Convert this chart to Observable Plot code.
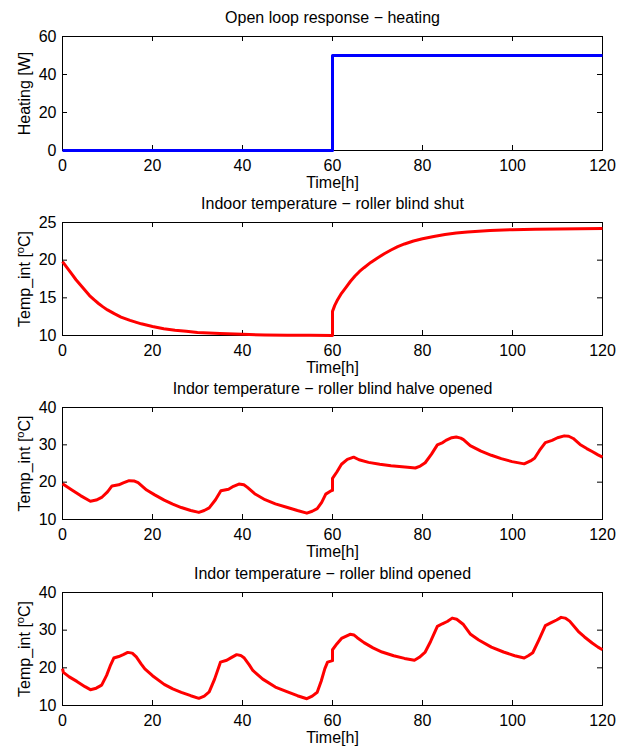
<!DOCTYPE html>
<html>
<head>
<meta charset="utf-8">
<script src="https://cdn.jsdelivr.net/npm/d3@7"></script>
<script src="https://cdn.jsdelivr.net/npm/@observablehq/plot@0.6"></script>
<style>
  html, body { margin: 0; padding: 0; background: #fff; }
  #wrap { position: relative; width: 630px; height: 747px; overflow: hidden; }
  #wrap svg { position: absolute; left: 0; overflow: visible; background: transparent; }
</style>
</head>
<body>
<div id="wrap"></div>
<script>
// ---- data ----
const titles = [
  "Open loop response \u2212 heating",
  "Indoor temperature \u2212 roller blind shut",
  "Indor temperature \u2212 roller blind halve opened",
  "Indor temperature \u2212 roller blind opened"
];
const xLabel = "Time[h]";
const yLabels = ["Heating [W]", "Temp_int [oC]", "Temp_int [oC]", "Temp_int [oC]"];
const xTicks = [0, 20, 40, 60, 80, 100, 120];
const yTicks1 = [0, 20, 40, 60];
const yTicks2 = [10, 15, 20, 25];
const yTicks3 = [10, 20, 30, 40];

// heating power [W]
const heatT = [0, 60, 60, 120];
const heatV = [0, 0, 50, 50];

// indoor temperature, roller blind shut
const shutT = [0, 0.5, 1, 2, 3, 4, 5, 6, 7, 8, 9, 10, 11.5, 13, 15, 17.5, 20, 22.5, 25, 27.5, 30, 35, 40, 45, 50, 55, 60,
  60, 60.5, 61, 61.5, 62, 63, 64, 65, 66, 67, 68.5, 70, 71.5, 73, 74.5, 76, 78, 80, 82.5, 85, 87.5, 90, 95, 100, 105, 110, 120];
const shutV = [19.8, 19.4, 19.0, 18.2, 17.4, 16.7, 16.0, 15.3, 14.75, 14.25, 13.8, 13.4, 12.9, 12.45, 12.0, 11.55, 11.2, 10.9, 10.7, 10.55, 10.4, 10.25, 10.15, 10.08, 10.04, 10.02, 10.0,
  13.2, 14.0, 14.6, 15.1, 15.6, 16.4, 17.2, 17.9, 18.5, 19.0, 19.7, 20.3, 20.85, 21.35, 21.8, 22.15, 22.55, 22.85, 23.15, 23.4, 23.6, 23.75, 23.95, 24.05, 24.12, 24.15, 24.2];

// indoor temperature, roller blind half opened
const halfT = [0, 2, 4, 6.2, 7.5, 8.7, 10, 11, 12.5, 13.5, 14.8, 16, 16.8, 18.7, 20.5, 22.6, 24.5, 26.4, 28.5, 30.3,
  31.5, 32.6, 34, 35.2, 36.9, 38, 39.2, 40.3, 41.1, 42.7, 45, 47.3, 50, 52.2, 54.3,
  55.5, 56.6, 57.6, 58.5, 59.7, 60, 60, 61, 62, 63.3, 64.7, 65.9, 68, 70.5, 73, 76.7, 78.4,
  79.5, 80.6, 82, 83.3, 84.5, 85.2, 86.5, 87.5, 88.5, 89.1, 90.6, 93, 95.3, 97.5, 99.9, 102.6,
  104, 104.9, 106, 107.3, 108.8, 110, 111.5, 112.5, 113.5, 115, 116.5, 117.7, 119, 120];
const halfV = [19.6, 18.0, 16.4, 14.9, 15.2, 15.9, 17.4, 19.0, 19.3, 19.8, 20.4, 20.3, 19.9, 17.9, 16.6, 15.2, 14.1, 13.2, 12.4, 11.9,
  12.4, 13.1, 15.3, 17.7, 18.1, 18.9, 19.5, 19.3, 18.6, 16.9, 15.3, 14.2, 13.2, 12.4, 11.7,
  12.2, 12.9, 14.6, 16.8, 17.7, 17.8, 21.0, 22.8, 24.8, 26.1, 26.7, 26.0, 25.3, 24.8, 24.4, 24.0, 23.8,
  24.3, 25.2, 27.5, 30.0, 30.6, 31.2, 31.9, 32.1, 31.8, 31.4, 29.8, 28.3, 27.2, 26.3, 25.5, 24.9,
  25.7, 26.4, 28.5, 30.6, 31.2, 31.9, 32.4, 32.3, 31.7, 30.1, 29.0, 28.2, 27.3, 26.7];

// indoor temperature, roller blind opened
const openT = [0, 0.2, 1.5, 3.2, 5, 6.2, 7.5, 8.7, 9.8, 10.6, 11.4, 12.5, 13.5, 14.5, 15.5, 16.4, 17.5, 18.3, 20, 22.6, 24.5, 26.4, 28.5, 30.3,
  31.5, 32.6, 33.8, 35.1, 36.5, 37.5, 38.7, 39.6, 40.4, 41.5, 42.3, 44.5, 47.3, 50, 52.2, 54.3,
  55.5, 56.6, 57.5, 58.3, 58.9, 60, 60, 61, 62, 63.9, 64.8, 65.5, 67, 69, 71, 73.6, 76, 78.2,
  79.3, 80.6, 81.8, 83.3, 84.4, 85.5, 86.6, 87.6, 89.1, 90.6, 92.5, 95.3, 98, 100.5, 102.6,
  103.5, 104.5, 105.9, 107.3, 108.6, 109.8, 110.8, 111.7, 112.7, 114.6, 116, 117.7, 119, 120];
const openV = [19.8, 18.8, 17.6, 16.4, 15.0, 14.2, 14.6, 15.4, 18.0, 20.5, 22.6, 23.0, 23.5, 24.1, 23.9, 22.9, 21.0, 19.7, 17.9, 15.6, 14.4, 13.5, 12.6, 11.9,
  12.5, 13.6, 17.0, 21.5, 22.0, 22.7, 23.5, 23.3, 22.6, 20.8, 19.3, 17.0, 14.9, 13.6, 12.6, 11.8,
  12.5, 13.5, 16.5, 19.8, 21.5, 21.9, 24.8, 26.4, 27.8, 28.9, 28.7, 28.0, 26.7, 25.3, 24.2, 23.2, 22.5, 22.0,
  22.8, 24.2, 27.0, 31.0, 31.7, 32.3, 33.2, 32.9, 31.5, 29.0, 27.4, 25.5, 24.2, 23.2, 22.6,
  23.2, 24.0, 27.5, 31.2, 32.0, 32.7, 33.4, 33.2, 32.4, 29.7, 28.2, 26.6, 25.5, 24.8];

// ---- drawing ----
const toRows = (T, V) => T.map((t, i) => ({t, v: V[i]}));
const font = "'Liberation Sans', Arial, Helvetica, sans-serif";

const panels = [
  {rows: toRows(heatT, heatV), color: "#0000ff", domain: [0, 60], ticks: yTicks1, top: 0, inner: 114},
  {rows: toRows(shutT, shutV), color: "#ff0000", domain: [10, 25], ticks: yTicks2, top: 186, inner: 113},
  {rows: toRows(halfT, halfV), color: "#ff0000", domain: [10, 40], ticks: yTicks3, top: 371, inner: 112},
  {rows: toRows(openT, openV), color: "#ff0000", domain: [10, 40], ticks: yTicks3, top: 556, inner: 113}
];

const wrap = document.getElementById("wrap");
const mt = 36, mb = 40, ml = 62, mr = 28, tick = 5;

panels.forEach((p, i) => {
  const h = mt + p.inner + mb;
  const svg = Plot.plot({
    width: 630,
    height: h,
    marginTop: mt,
    marginBottom: mb,
    marginLeft: ml,
    marginRight: mr,
    style: {fontFamily: font, fontSize: "16px", color: "#000", background: "transparent", overflow: "visible"},
    x: {domain: [0, 120]},
    y: {domain: p.domain},
    marks: [
      Plot.frame({stroke: "#000", strokeWidth: 1}),
      // inward ticks on all four sides
      Plot.tickX(xTicks, {x: d => d, insetTop: p.inner - tick, stroke: "#000"}),
      Plot.tickX(xTicks, {x: d => d, insetBottom: p.inner - tick, stroke: "#000"}),
      Plot.tickY(p.ticks, {y: d => d, insetRight: 540 - tick, stroke: "#000"}),
      Plot.tickY(p.ticks, {y: d => d, insetLeft: 540 - tick, stroke: "#000"}),
      Plot.axisX({ticks: xTicks, tickSize: 0, tickPadding: 9, label: null, fontSize: 16}),
      Plot.axisY({ticks: p.ticks, tickSize: 0, tickPadding: 6, label: null, fontSize: 16}),
      Plot.line(p.rows, {x: "t", y: "v", stroke: p.color, strokeWidth: 3, strokeLinejoin: "round", strokeLinecap: "butt"}),
      Plot.text([titles[i]], {frameAnchor: "top", dy: -18.5, text: d => d, fontSize: 16, fill: "#000", lineAnchor: "middle", textAnchor: "middle"}),
      Plot.text([xLabel], {frameAnchor: "bottom", dy: 32.5, text: d => d, fontSize: 16, fill: "#000", lineAnchor: "middle", textAnchor: "middle"}),
      Plot.text([yLabels[i]], {frameAnchor: "left", dx: -37.5, rotate: -90, text: d => d, fontSize: 16, fill: "#000", lineAnchor: "middle", textAnchor: "middle"})
    ]
  });
  svg.style.top = p.top + "px";
  // superscript "o" in the temperature unit
  d3.select(svg).selectAll("text").each(function () {
    if (this.textContent === "Temp_int [oC]") {
      const t = d3.select(this);
      t.text(null);
      t.append("tspan").text("Temp_int [");
      t.append("tspan").attr("font-size", 11).attr("dy", -6).text("o");
      t.append("tspan").attr("dy", 6).text("C]");
    }
  });
  wrap.appendChild(svg);
});
</script>
</body>
</html>
